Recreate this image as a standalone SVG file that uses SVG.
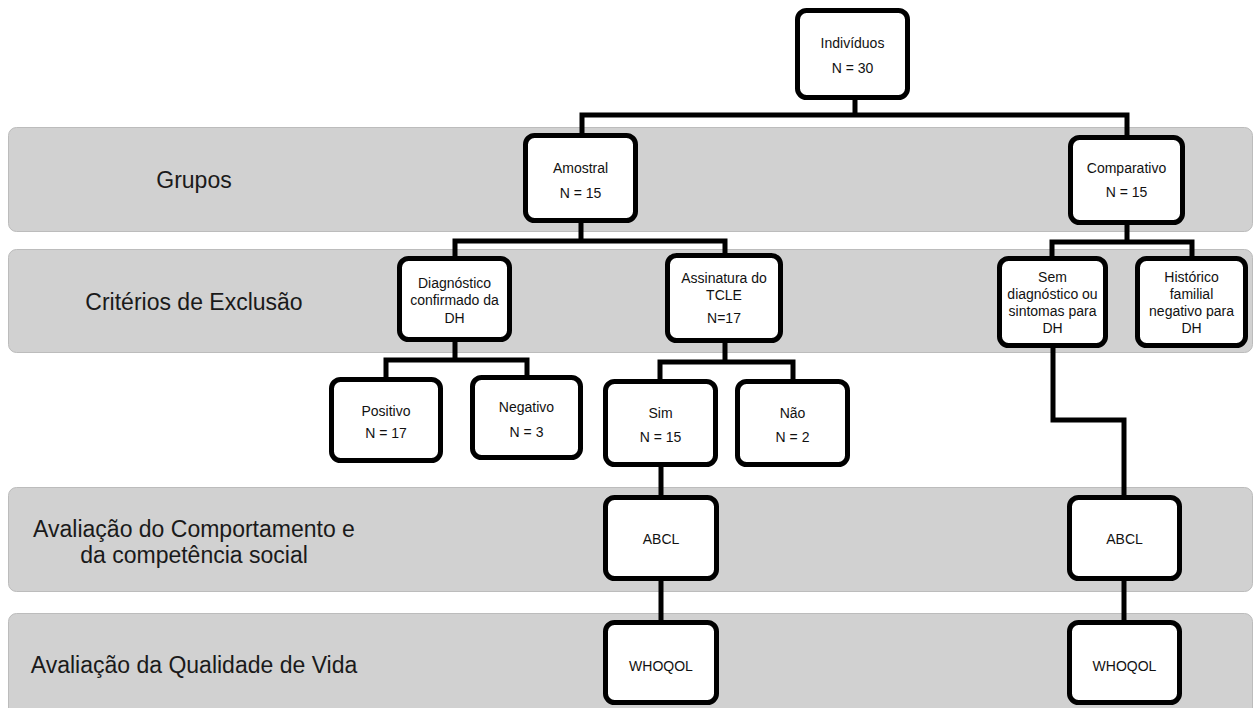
<svg xmlns="http://www.w3.org/2000/svg" width="1255" height="708" viewBox="0 0 1255 708">
<style>
.band{fill:#d1d1d1;stroke:#bcbcbc;stroke-width:1}
.lbl{font-family:"Liberation Sans",Arial,sans-serif;font-size:23px;fill:#1a1a1a;text-anchor:middle}
.box{fill:#fff;stroke:#000;stroke-width:5}
.t{font-family:"Liberation Sans",Arial,sans-serif;font-size:14px;fill:#111;text-anchor:middle}
.con{fill:none;stroke:#000;stroke-width:5;stroke-linejoin:miter}
</style>
<rect width="1255" height="708" fill="#fff"/>
<g id="bands">
<rect class="band" x="8.5" y="127.5" width="1244" height="104" rx="8"/>
<rect class="band" x="8.5" y="249.5" width="1244" height="103" rx="8"/>
<rect class="band" x="8.5" y="487.5" width="1244" height="104" rx="8"/>
<rect class="band" x="8.5" y="613.5" width="1244" height="110" rx="8"/>
<text class="lbl" x="194" y="188">Grupos</text>
<text class="lbl" x="194" y="310">Critérios de Exclusão</text>
<text class="lbl" x="194" y="537">Avaliação do Comportamento e</text>
<text class="lbl" x="194" y="563">da competência social</text>
<text class="lbl" x="194" y="673">Avaliação da Qualidade de Vida</text>
</g>
<g id="connectors">
<path class="con" d="M855 100 V115 M582 133 V115 H1127 V135"/>
<path class="con" d="M581 223 V241 M455 256 V241 H725 V253"/>
<path class="con" d="M1127 225 V242 M1052 256 V242 H1192 V256"/>
<path class="con" d="M455 342 V360 M386 377 V360 H527 V375"/>
<path class="con" d="M725 343 V362 M660 379 V362 H793 V379"/>
<path class="con" d="M661 467 V495 M661 581 V620"/>
<path class="con" d="M1053 348 V420 H1124 V495 M1124 581 V620"/>
</g>
<g id="n-individuos"><rect class="box" x="797.5" y="10.5" width="110" height="87" rx="9"/><text class="t" x="852.5" y="48">Indivíduos</text><text class="t" x="852.5" y="73">N = 30</text></g>
<g id="n-amostral"><rect class="box" x="525.5" y="135.5" width="110" height="85" rx="9"/><text class="t" x="580.5" y="173">Amostral</text><text class="t" x="580.5" y="198">N = 15</text></g>
<g id="n-comparativo"><rect class="box" x="1070.5" y="137.5" width="112" height="85" rx="9"/><text class="t" x="1126.5" y="173">Comparativo</text><text class="t" x="1126.5" y="197">N = 15</text></g>
<g id="n-diagnostico"><rect class="box" x="399.5" y="258.5" width="110" height="81" rx="9"/><text class="t" x="454.5" y="288">Diagnóstico</text><text class="t" x="454.5" y="305">confirmado da</text><text class="t" x="454.5" y="323">DH</text></g>
<g id="n-assinatura"><rect class="box" x="667.5" y="255.5" width="113" height="85" rx="9"/><text class="t" x="724" y="283">Assinatura do</text><text class="t" x="724" y="300">TCLE</text><text class="t" x="724" y="323">N=17</text></g>
<g id="n-sem"><rect class="box" x="999.5" y="258.5" width="106" height="87" rx="9"/><text class="t" x="1052.5" y="282">Sem</text><text class="t" x="1052.5" y="299">diagnóstico ou</text><text class="t" x="1052.5" y="316">sintomas para</text><text class="t" x="1052.5" y="333">DH</text></g>
<g id="n-historico"><rect class="box" x="1137.5" y="258.5" width="108" height="87" rx="9"/><text class="t" x="1191.5" y="282">Histórico</text><text class="t" x="1191.5" y="299">familial</text><text class="t" x="1191.5" y="316">negativo para</text><text class="t" x="1191.5" y="333">DH</text></g>
<g id="n-positivo"><rect class="box" x="331.5" y="379.5" width="109" height="81" rx="9"/><text class="t" x="386" y="416">Positivo</text><text class="t" x="386" y="438">N = 17</text></g>
<g id="n-negativo"><rect class="box" x="472.5" y="377.5" width="108" height="80" rx="9"/><text class="t" x="526.5" y="412">Negativo</text><text class="t" x="526.5" y="437">N = 3</text></g>
<g id="n-sim"><rect class="box" x="605.5" y="381.5" width="110" height="83" rx="9"/><text class="t" x="660.5" y="418">Sim</text><text class="t" x="660.5" y="442">N = 15</text></g>
<g id="n-nao"><rect class="box" x="737.5" y="381.5" width="110" height="83" rx="9"/><text class="t" x="792.5" y="418">Não</text><text class="t" x="792.5" y="442">N = 2</text></g>
<g id="n-abcl1"><rect class="box" x="605.5" y="497.5" width="111" height="81" rx="9"/><text class="t" x="661" y="544">ABCL</text></g>
<g id="n-whoqol1"><rect class="box" x="605.5" y="622.5" width="111" height="80" rx="9"/><text class="t" x="661" y="671">WHOQOL</text></g>
<g id="n-abcl2"><rect class="box" x="1069.5" y="497.5" width="110" height="81" rx="9"/><text class="t" x="1124.5" y="544">ABCL</text></g>
<g id="n-whoqol2"><rect class="box" x="1069.5" y="622.5" width="110" height="80" rx="9"/><text class="t" x="1124.5" y="671">WHOQOL</text></g>
</svg>
